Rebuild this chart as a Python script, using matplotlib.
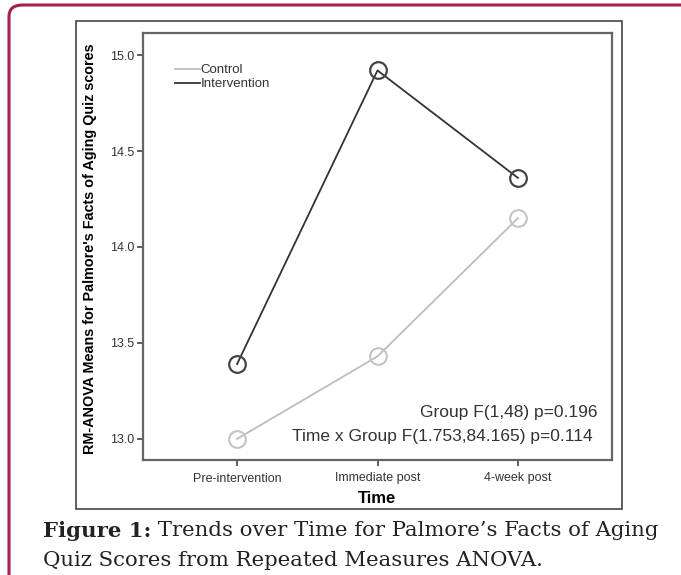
import matplotlib
matplotlib.use("Agg")
import matplotlib.pyplot as plt
from matplotlib.patches import FancyBboxPatch, Rectangle

# ---- data ----
time_points = ["Pre-intervention", "Immediate post", "4-week post"]
control = [13.00, 13.43, 14.15]
intervention = [13.39, 14.92, 14.36]
yticks = [13.0, 13.5, 14.0, 14.5, 15.0]
stats_lines = ["Group F(1,48) p=0.196", "Time x Group F(1.753,84.165) p=0.114"]
ylabel = "RM-ANOVA Means for Palmore's Facts of Aging Quiz scores"
caption_bold = "Figure 1:"
caption_line1 = "Trends over Time for Palmore\u2019s Facts of Aging"
caption_line2 = "Quiz Scores from Repeated Measures ANOVA."

W, H = 681, 575
fig = plt.figure(figsize=(W / 100, H / 100), dpi=100)
fig.patch.set_facecolor("white")
renderer = fig.canvas.get_renderer()


def fx(px):
    return px / W


def fy(py):
    return 1 - py / H


def fit(t, width_px, horizontal=True):
    """scale font size so that the text occupies width_px"""
    bb = t.get_window_extent(renderer=renderer)
    cur = bb.width if horizontal else bb.height
    t.set_fontsize(t.get_fontsize() * width_px / cur)
    return t


# maroon rounded frame
frame = FancyBboxPatch((fx(9), fy(600)), fx(720), fy(5) - fy(600),
                       boxstyle="round,pad=0,rounding_size=0.02",
                       transform=fig.transFigure, fill=False,
                       edgecolor="#a3214c", linewidth=2.2, clip_on=False)
fig.patches.append(frame)

# chart border
fig.patches.append(Rectangle((fx(76), fy(509)), fx(622 - 76), fy(21) - fy(509),
                             transform=fig.transFigure, fill=False,
                             edgecolor="#444444", linewidth=1.2))

ax = fig.add_axes([fx(143), fy(460), fx(612 - 143), fy(33) - fy(460)])
x = list(range(len(time_points)))
ax.plot(x, control, color="#bdbdbd", linewidth=1.3, marker="o", markersize=12,
        markerfacecolor="none", markeredgecolor="#c4c4c4", markeredgewidth=1.5,
        label="Control")
ax.plot(x, intervention, color="#333333", linewidth=1.3, marker="o", markersize=12,
        markerfacecolor="none", markeredgecolor="#444444", markeredgewidth=1.6,
        label="Intervention")

ax.set_xlim(-0.67, 2.67)
ax.set_ylim(12.89, 15.115)
ax.set_yticks(yticks)
ax.set_yticklabels([f"{v:.1f}" for v in yticks], fontsize=9, color="#333333",
                   family="Liberation Sans")
ax.set_xticks(x)
ax.set_xticklabels(time_points, fontsize=9, color="#333333", family="Liberation Sans")
ax.tick_params(axis="both", length=4, width=1.2, color="#444444")
ax.tick_params(axis="x", pad=5)
ax.tick_params(axis="y", pad=2)
for s in ax.spines.values():
    s.set_color("#666666")
    s.set_linewidth(1.6)

ax.set_xlabel("Time", fontsize=12, fontweight="bold", family="Liberation Sans",
              labelpad=5)
yl = fig.text(fx(90), fy(249), ylabel, rotation=90, ha="center", va="center",
              fontsize=10, fontweight="bold", family="Liberation Sans")
fit(yl, 412, horizontal=False)

leg = ax.legend(loc="upper left", bbox_to_anchor=(0.042, 0.955), frameon=False,
                handlelength=1.9, handletextpad=0.08,
                labelspacing=0.12, prop={"family": "Liberation Sans", "size": 9.5})
for h in leg.get_lines():
    h.set_marker("")
for t in leg.get_texts():
    t.set_color("#333333")

s1 = fig.text(fx(597), fy(412), stats_lines[0], ha="right", va="center", fontsize=12,
              color="#333333", family="Liberation Sans")
fit(s1, 178)
s2 = fig.text(fx(593), fy(437), stats_lines[1], ha="right", va="center",
              fontsize=s1.get_fontsize(), color="#333333", family="Liberation Sans")

# caption
cfam = "DejaVu Serif"
cb = fig.text(fx(43), fy(531), caption_bold, ha="left", va="center", fontsize=15,
              fontweight="bold", family=cfam, color="#222222")
c1 = fig.text(fx(43), fy(531), " " + caption_line1, ha="left", va="center",
              fontsize=15, family=cfam, color="#222222")
wb = cb.get_window_extent(renderer=renderer).width
w1 = c1.get_window_extent(renderer=renderer).width
scale = (660 - 43) / (wb + w1)
size = 15 * scale
cb.set_fontsize(size)
c1.set_fontsize(size)
wb = cb.get_window_extent(renderer=renderer).width
c1.set_x(fx(43 + wb))
c2 = fig.text(fx(43), fy(560), caption_line2, ha="left", va="center",
              fontsize=size, family=cfam, color="#222222")

fig.savefig("out.png", dpi=100)
